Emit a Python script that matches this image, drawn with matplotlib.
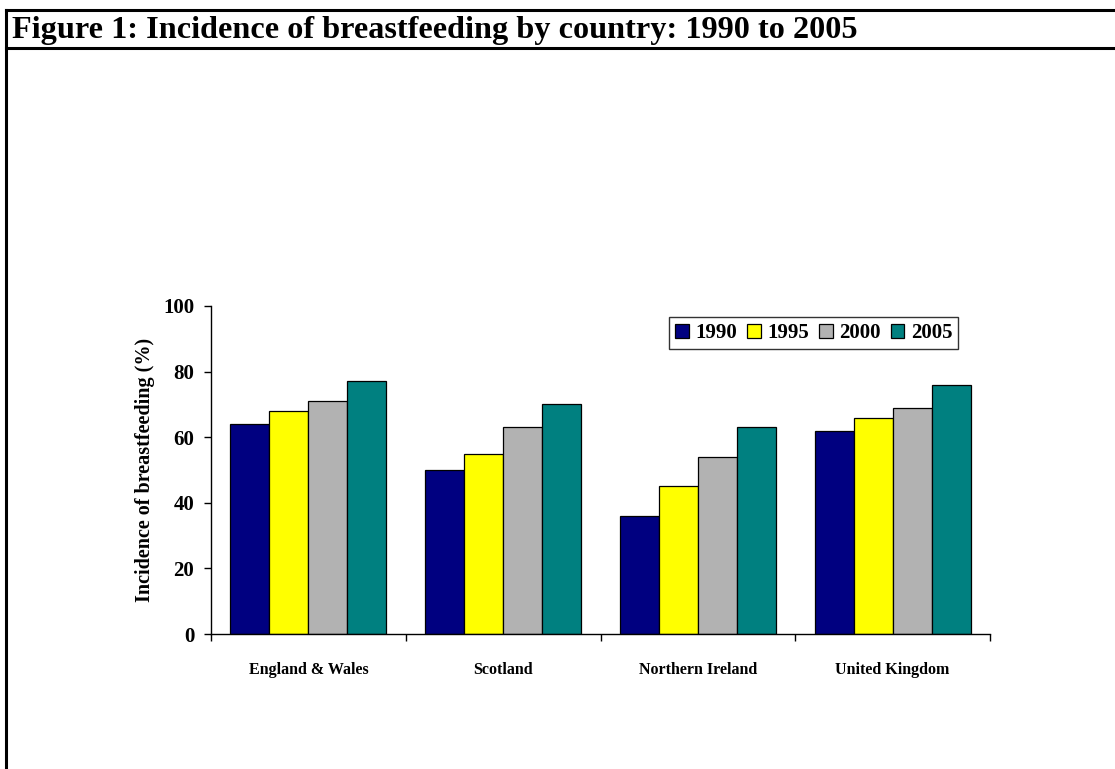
import numpy as np
import matplotlib.pyplot as plt
from matplotlib.lines import Line2D
from matplotlib.ticker import FixedLocator

# breastfeeding incidence (%) by country and survey year
countries = ['England & Wales', 'Scotland', 'Northern Ireland', 'United Kingdom']
years = ['1990', '1995', '2000', '2005']
inc_1990 = [64, 50, 36, 62]
inc_1995 = [68, 55, 45, 66]
inc_2000 = [71, 63, 54, 69]
inc_2005 = [77, 70, 63, 76]
series = [inc_1990, inc_1995, inc_2000, inc_2005]
colours = ['#000080', '#FFFF00', '#B2B2B2', '#008080']

plt.rcParams['font.family'] = ['Liberation Serif', 'DejaVu Serif']
plt.rcParams['font.weight'] = 'bold'

W, H = 1115, 769
fig = plt.figure(figsize=(W / 100, H / 100), dpi=100)

# frame lines round the figure caption
fig.add_artist(Line2D([6 / W, 1], [1 - 10 / H, 1 - 10 / H], color='black', lw=2.2))
fig.add_artist(Line2D([6 / W, 1], [1 - 48 / H, 1 - 48 / H], color='black', lw=2.2))
fig.add_artist(Line2D([6 / W, 6 / W], [1 - 10 / H, 0], color='black', lw=2.2))
fig.text(12 / W, 1 - 38 / H, 'Figure 1: Incidence of breastfeeding by country: 1990 to 2005',
         fontsize=23.2, fontweight='bold', va='baseline', ha='left')

left, right, top, bottom = 211, 990, 306, 634
ax = fig.add_axes([left / W, 1 - bottom / H, (right - left) / W, (bottom - top) / H])

x = np.arange(len(countries))
w = 0.2
for i, vals in enumerate(series):
    ax.bar(x + (i - 1.5) * w, vals, w, color=colours[i], edgecolor='black',
           linewidth=0.9, label=years[i], zorder=2)

ax.set_xlim(-0.5, len(countries) - 0.5)
ax.set_ylim(0, 100)
ax.set_yticks(np.arange(0, 101, 20))
ax.tick_params(axis='y', direction='out', length=5, width=1, labelsize=15, pad=7)

ax.set_xticks(x)
ax.set_xticklabels(countries, fontsize=11.5, fontweight='bold')
ax.xaxis.set_minor_locator(FixedLocator(np.arange(-0.5, len(countries), 1)))
ax.tick_params(axis='x', which='major', length=0, pad=20)
ax.tick_params(axis='x', which='minor', direction='out', length=5, width=1)

ax.spines['top'].set_visible(False)
ax.spines['right'].set_visible(False)
for s in ('left', 'bottom'):
    ax.spines[s].set_linewidth(1)

ax.set_ylabel('Incidence of breastfeeding (%)', fontsize=14.5, fontweight='bold', labelpad=6)

leg = ax.legend(loc='upper left', bbox_to_anchor=((669 - left) / (right - left), 1 - (317 - top) / (bottom - top)),
                ncol=4, frameon=True, fancybox=False, fontsize=15, handlelength=0.65, handleheight=0.65,
                handletextpad=0.3, columnspacing=0.5, borderpad=0.3, borderaxespad=0)
leg.get_frame().set_edgecolor('black')
leg.get_frame().set_linewidth(1)

fig.savefig('out.png', dpi=100)
